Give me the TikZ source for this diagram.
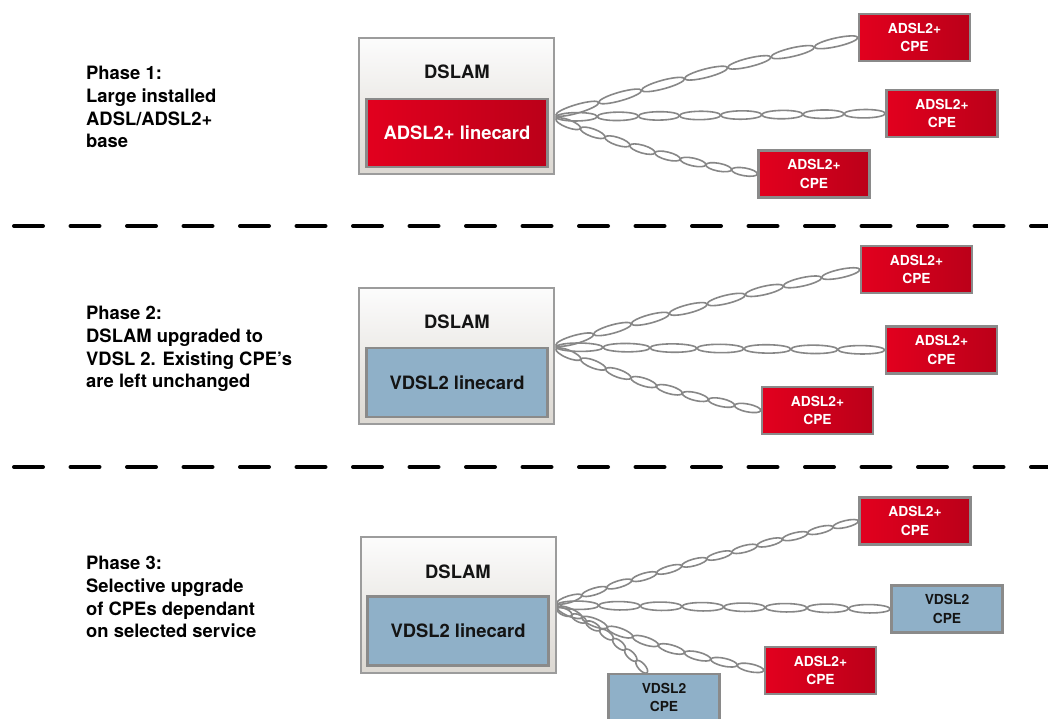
\documentclass[tikz,border=0pt]{standalone}
\usepackage{fontspec}
\setmainfont{TeX Gyre Heros}
\usetikzlibrary{decorations.markings,calc}
\pgfdeclarelayer{bg}
\pgfsetlayers{bg,main}
\definecolor{cablegray}{HTML}{878787}
\definecolor{boxborder}{HTML}{8A8A8A}
\definecolor{redA}{HTML}{E2001E}
\definecolor{redB}{HTML}{BB0019}
\definecolor{vblue}{HTML}{8FB0C8}
\definecolor{dslamtop}{HTML}{FCFCFC}
\definecolor{dslambot}{HTML}{DCD8D2}
\definecolor{darktext}{HTML}{141414}
\begin{document}
\begin{tikzpicture}[x=1pt,y=-1pt,
  wire/.style={draw=cablegray, line width=1.6pt},
  twisted/.style 2 args={decorate, decoration={markings,
      mark=between positions {1/(2*#1)} and 1 step {1/#1} with
      {\draw[wire] (0,0) ellipse [x radius={\pgfdecoratedpathlength/(2*#1)}, y radius=#2pt];}}},
  dslambox/.style={draw=boxborder!85, line width=2pt, top color=dslamtop, bottom color=dslambot,
    minimum width=195pt, minimum height=136pt, inner sep=0pt},
  redcard/.style={draw=boxborder, line width=2.4pt, left color=redA, right color=redB,
    minimum width=181pt, minimum height=68pt, inner sep=0pt, text=white,
    font=\fontsize{18.4}{22}\selectfont\bfseries},
  bluecard/.style={draw=boxborder, line width=2.4pt, fill=vblue,
    minimum width=181pt, minimum height=69pt, inner sep=0pt, text=darktext,
    font=\fontsize{18.4}{22}\selectfont\bfseries},
  dslamlabel/.style={inner sep=0pt, text=darktext, font=\fontsize{18.4}{22}\selectfont\bfseries},
  redcpe/.style={draw=boxborder, line width=2.4pt, left color=redA, right color=redB,
    minimum width=111pt, minimum height=47pt, inner sep=0pt, text=white, align=center,
    font=\fontsize{13.8}{18.7}\selectfont\bfseries},
  bluecpe/.style={draw=boxborder, line width=2.4pt, fill=vblue,
    minimum width=111pt, minimum height=47pt, inner sep=0pt, text=darktext, align=center,
    font=\fontsize{13.8}{18.7}\selectfont\bfseries},
  phasetext/.style={anchor=north west, inner sep=0pt, align=left, text=black,
    font=\fontsize{18.4}{22.7}\selectfont\bfseries},
  sepline/.style={draw=black, line width=4pt, line cap=round, dash pattern=on 29pt off 27.5pt}
]
\useasboundingbox (0,0) rectangle (1048,719);

% ---------- Phase 1 ----------
\node[phasetext] (p1) at (86,66) {Phase 1:\\Large installed\\ADSL/ADSL2+\\base};
\node[dslambox] (d1) at (456.5,106) {};
\node[dslamlabel] (t1) at (457,72) {DSLAM};
\node[redcard] (lc1) at (457,133) {ADSL2+ linecard};
\node[redcpe] (c11) at (914.5,37.5) {ADSL2+\\CPE};
\node[redcpe] (c12) at (942,113.5) {ADSL2+\\CPE};
\node[redcpe] (c13) at (814,174) {ADSL2+\\CPE};
\coordinate (s1a) at (556,115);
\coordinate (s1b) at (556,117);
\coordinate (s1c) at (556,119);

% ---------- Phase 2 ----------
\node[phasetext] (p2) at (86,306) {Phase 2:\\DSLAM upgraded to\\VDSL 2. Existing CPE’s\\are left unchanged};
\node[dslambox] (d2) at (456.5,356) {};
\node[dslamlabel] (t2) at (457,322) {DSLAM};
\node[bluecard] (lc2) at (457,382.5) {VDSL2 linecard};
\node[redcpe] (c21) at (916.5,269.5) {ADSL2+\\CPE};
\node[redcpe] (c22) at (941.5,350) {ADSL2+\\CPE};
\node[redcpe] (c23) at (817.5,410.5) {ADSL2+\\CPE};
\coordinate (s2a) at (556,345);
\coordinate (s2b) at (556,347);
\coordinate (s2c) at (556,349);

% ---------- Phase 3 ----------
\node[phasetext] (p3) at (86,556) {Phase 3:\\Selective upgrade\\of CPEs dependant\\on selected service};
\node[dslambox] (d3) at (458,605) {};
\node[dslamlabel] (t3) at (458,572) {DSLAM};
\node[bluecard] (lc3) at (458,631) {VDSL2 linecard};
\node[redcpe] (c31) at (915,521) {ADSL2+\\CPE};
\node[bluecpe] (c32) at (947,609) {VDSL2\\CPE};
\node[redcpe] (c33) at (820.5,670.5) {ADSL2+\\CPE};
\node[bluecpe] (c34) at (664,697.5) {VDSL2\\CPE};
\coordinate (s3a) at (557,603);
\coordinate (s3b) at (557,605);
\coordinate (s3c) at (557,607);
\coordinate (s3d) at (557,609);
\coordinate (e34) at ($(c34.north west)!0.35!(c34.north east)$);

\begin{pgfonlayer}{bg}
  \fill[white] (0,0) rectangle (1048,719);
  \draw[sepline] (14,226) -- (1070,226);
  \draw[sepline] (14,467) -- (1070,467);
  % phase 1 cables
  \path[twisted={7}{4.3}] (s1a) to[bend left=2] (c11.west);
  \path[twisted={8}{4.2}] (s1b) to (c12.west);
  \path[twisted={8}{3.9}] (s1c) to[bend right=6] (c13.west);
  % phase 2 cables
  \path[twisted={8}{4.2}] (s2a) to[bend left=2] (c21.west);
  \path[twisted={7}{4.2}] (s2b) to (c22.west);
  \path[twisted={8}{3.9}] (s2c) to[bend right=6] (c23.west);
  % phase 3 cables
  \path[twisted={12}{3.4}] (s3a) to[bend left=2] (c31.west);
  \path[twisted={8}{4.2}] (s3b) to (c32.west);
  \path[twisted={8}{3.9}] (s3c) to[bend right=6] (c33.west);
  \path[twisted={7}{3.5}] (s3d) to[bend left=14] (e34);
\end{pgfonlayer}
\end{tikzpicture}
\end{document}
